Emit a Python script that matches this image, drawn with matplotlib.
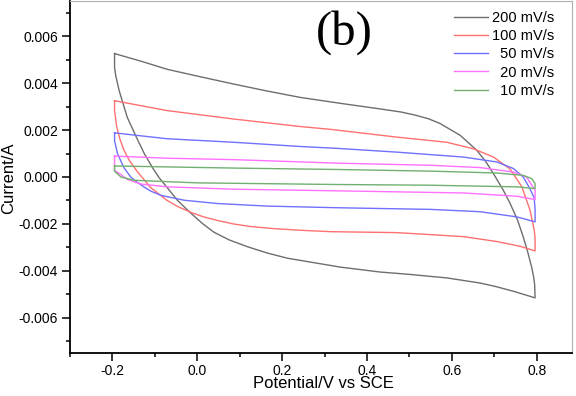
import matplotlib
matplotlib.use("Agg")
import matplotlib.pyplot as plt
from matplotlib.ticker import FormatStrFormatter, MultipleLocator

plt.rcParams["font.family"] = ["Liberation Sans", "DejaVu Sans"]
plt.rcParams["axes.unicode_minus"] = False

# cyclic voltammograms (potential in V, current in A)
pot_200 = [-0.195, -0.13, -0.071, 0.0, 0.086, 0.16, 0.243, 0.337, 0.431, 0.48,
           0.515, 0.545, 0.572, 0.62, 0.659, 0.68, 0.698, 0.721, 0.737, 0.755,
           0.768, 0.778, 0.788, 0.793, 0.795, 0.796,
           0.745, 0.706, 0.667, 0.588, 0.50, 0.431, 0.337, 0.212, 0.165, 0.118,
           0.075, 0.039, 0.012, -0.016, -0.047, -0.071, -0.090, -0.104, -0.125,
           -0.145, -0.165, -0.184, -0.192, -0.195, -0.195]
cur_200 = [0.00526, 0.00492, 0.00459, 0.00430, 0.00396, 0.00368, 0.00339, 0.00314,
           0.00290, 0.00277, 0.00263, 0.00248, 0.00228, 0.00177, 0.00113, 0.00065,
           0.00014, -0.00056, -0.00112, -0.00185, -0.00255, -0.00315, -0.00385,
           -0.00430, -0.00460, -0.00515,
           -0.00487, -0.00468, -0.00452, -0.00430, -0.00415, -0.00405, -0.00384,
           -0.00346, -0.00324, -0.00297, -0.00268, -0.00235, -0.00198, -0.00153,
           -0.00099, -0.00045, -0.00003, 0.00035, 0.00100, 0.00175, 0.00254,
           0.00367, 0.00430, 0.00466, 0.00526]

pot_100 = [-0.195, -0.13, -0.071, 0.086, 0.243, 0.314, 0.47, 0.588, 0.651, 0.698,
           0.737, 0.765, 0.784, 0.794, 0.796, 0.796,
           0.76, 0.706, 0.627, 0.47, 0.314, 0.243, 0.18, 0.125, 0.085, 0.047,
           0.015, -0.012, -0.045, -0.071, -0.11, -0.141, -0.160, -0.173, -0.183,
           -0.190, -0.195, -0.195]
cur_100 = [0.00325, 0.00303, 0.00283, 0.00247, 0.00215, 0.00203, 0.00170, 0.00148,
           0.00120, 0.00085, 0.00034, -0.00042, -0.00141, -0.00226, -0.00261,
           -0.00315,
           -0.00295, -0.00275, -0.00254, -0.00237, -0.00233, -0.00227, -0.00220,
           -0.00211, -0.00200, -0.00185, -0.00170, -0.00153, -0.00127, -0.00100,
           -0.00045, 0.00022, 0.00070, 0.00115, 0.00165, 0.00215, 0.00283, 0.00325]

pot_50 = [-0.195, -0.071, 0.086, 0.243, 0.33, 0.47, 0.627, 0.706, 0.745, 0.768,
          0.784, 0.794, 0.796, 0.796,
          0.753, 0.667, 0.549, 0.33, 0.165, 0.047, -0.031, -0.086, -0.110, -0.126,
          -0.145, -0.157, -0.173, -0.188, -0.195, -0.195]
cur_50 = [0.00188, 0.00163, 0.00148, 0.00130, 0.00122, 0.00106, 0.00085, 0.00064,
          0.00036, 0.0, -0.00050, -0.00090, -0.00141, -0.00191,
          -0.00170, -0.00148, -0.00138, -0.00131, -0.00124, -0.00113, -0.00099,
          -0.00078, -0.00060, -0.00042, -0.00018, 0.0, 0.00040, 0.00099, 0.00155,
          0.00188]

pot_20 = [-0.195, -0.071, 0.086, 0.33, 0.549, 0.667, 0.745, 0.776, 0.788, 0.796,
          0.796,
          0.753, 0.627, 0.33, 0.086, -0.071, -0.133, -0.165, -0.184, -0.195, -0.195]
cur_20 = [0.00089, 0.00080, 0.00074, 0.00059, 0.00050, 0.00040, 0.00021, 0.0,
          -0.00035, -0.00056, -0.00096,
          -0.00082, -0.00068, -0.00059, -0.00052, -0.00042, -0.00030, -0.00010,
          0.00015, 0.00028, 0.00089]

pot_10 = [-0.195, 0.086, 0.33, 0.549, 0.706, 0.768, 0.788, 0.796, 0.796,
          0.753, 0.549, 0.33, 0.0, -0.149, -0.180, -0.193, -0.195, -0.195]
cur_10 = [0.00047, 0.00038, 0.00032, 0.00025, 0.00017, 0.00007, -0.00007, -0.00028,
          -0.00049,
          -0.00042, -0.00035, -0.00032, -0.00025, -0.00014, 0.0, 0.00021, 0.00025,
          0.00047]

# figure space (U+2007) keeps the labels right-aligned like the original legend
labels = ["200 mV/s", "100 mV/s", "\u200750 mV/s", "\u200720 mV/s", "\u200710 mV/s"]
series = [(pot_200, cur_200), (pot_100, cur_100), (pot_50, cur_50),
          (pot_20, cur_20), (pot_10, cur_10)]
colors = ["#6e6e6e", "#ff7070", "#7070ff", "#ff70ff", "#70b070"]

fig = plt.figure(figsize=(5.76, 3.96), dpi=100)
ax = fig.add_axes([70 / 576, 1 - 353 / 396, 502 / 576, 352 / 396])

for (x, y), c, lab in zip(series, colors, labels):
    ax.plot(x, y, color=c, lw=1.0, label=lab)

ax.set_xlim(-0.3, 0.883)
ax.set_ylim(-0.0075, 0.0075)
ax.xaxis.set_major_locator(MultipleLocator(0.2))
ax.xaxis.set_minor_locator(MultipleLocator(0.1))
ax.yaxis.set_major_locator(MultipleLocator(0.002))
ax.yaxis.set_minor_locator(MultipleLocator(0.001))
ax.xaxis.set_major_formatter(FormatStrFormatter("%.1f"))
ax.yaxis.set_major_formatter(FormatStrFormatter("%.3f"))
ax.tick_params(which="both", direction="out", width=1.1, labelsize=10, pad=3,
               top=False, right=False)
ax.tick_params(axis="x", pad=2.2)
ax.tick_params(which="major", length=5.5)
ax.tick_params(which="minor", length=3)

for side in ("left", "bottom"):
    ax.spines[side].set_linewidth(1.3)
for side in ("top", "right"):
    ax.spines[side].set_color("#b0b0b0")
    ax.spines[side].set_linewidth(0.8)

ax.set_xlabel("Potential/V vs SCE", fontsize=12)
ax.set_ylabel("Current/A", fontsize=12)
ax.xaxis.set_label_coords(0.504, -0.066)
ax.yaxis.set_label_coords(-0.108, 0.496)

fig.text(344 / 576, 1 - 33 / 396, "(b)", fontsize=35, ha="center", va="center",
         family=["Liberation Serif", "DejaVu Serif"])

ax.legend(loc="upper right", bbox_to_anchor=(0.965, 0.972), frameon=False,
          fontsize=10.5, handlelength=2.3, handletextpad=0.3,
          labelspacing=0.29, borderpad=0, borderaxespad=0)

fig.savefig("out.png", dpi=100)
